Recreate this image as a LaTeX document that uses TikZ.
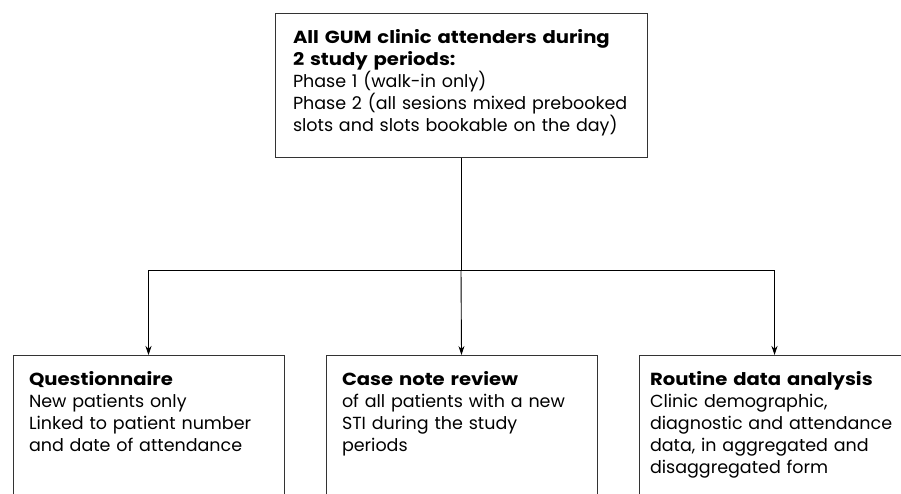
\documentclass[tikz,border=0pt]{standalone}
\usepackage{fontspec}
\setmainfont{Poppins}[BoldFeatures={FakeStretch=1.12}]
\usetikzlibrary{arrows.meta}

\tikzset{
  panel/.style={draw=black!80, line width=0.9pt, anchor=north, align=left,
    inner xsep=16pt, inner ysep=0pt, text height=30pt,
    font=\fontsize{17.5}{22}\selectfont},
  feed/.style={black, line width=0.9pt, -{Stealth[length=9pt, width=6pt]}}
}

\begin{document}
\begin{tikzpicture}[x=1pt, y=-1pt]
    \useasboundingbox (0,0) rectangle (901,493);
    \clip (0,0) rectangle (901,493);
    \node[panel, inner xsep=18pt, text width=336pt, text depth=114pt] (attenders) at (461,13)
      {\textbf{All GUM clinic attenders during}\\
       \textbf{2 study periods:}\\
       Phase 1 (walk-in only)\\
       Phase 2 (all sesions mixed prebooked\\
       slots and slots bookable on the day)};
    \node[panel, text width=239pt, text depth=150pt] (quest) at (148.5,355)
      {\textbf{Questionnaire}\\
       New patients only\\
       Linked to patient number\\
       and date of attendance};
    \node[panel, text width=239pt, text depth=150pt] (review) at (461.5,355)
      {\textbf{Case note review}\\
       of all patients with a new\\
       STI during the study\\
       periods};
    \node[panel, inner xsep=11pt, text width=249pt, text depth=150pt] (routine) at (774.5,355)
      {\textbf{Routine data analysis}\\
       Clinic demographic,\\
       diagnostic and attendance\\
       data, in aggregated and\\
       disaggregated form};
    \coordinate (split) at (461,270);
    \draw[black, line width=0.9pt] (attenders.south) -- (split);
    \draw[feed] (split) -| (quest.north);
    \draw[feed] (split) -- (review.north);
    \draw[feed] (split) -| (routine.north);
\end{tikzpicture}
\end{document}
